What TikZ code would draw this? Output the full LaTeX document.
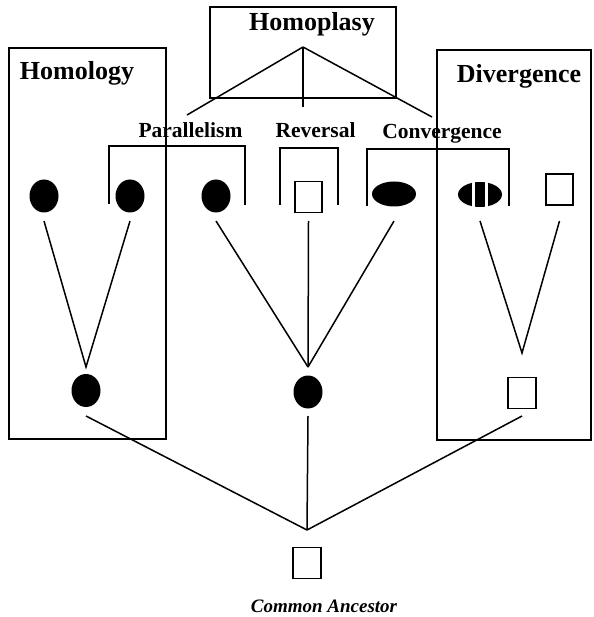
\documentclass[tikz,border=0pt]{standalone}
\usepackage{fontspec}
\setmainfont{Liberation Serif}
\usetikzlibrary{shapes.geometric}
\begin{document}
\begin{tikzpicture}[x=1pt,y=-1pt,line width=1.7pt,
  blob/.style={ellipse,fill=black,inner sep=0pt,minimum width=29pt,minimum height=33pt},
  flatblob/.style={ellipse,fill=black,inner sep=0pt,minimum width=44pt,minimum height=25pt},
  sq/.style={rectangle,draw,line width=1.6pt,inner sep=0pt,minimum width=27.5pt,minimum height=31pt},
  title/.style={font=\fontsize{26}{28}\selectfont\bfseries,anchor=base,inner sep=0pt},
  lab/.style={font=\fontsize{21.5}{24}\selectfont\bfseries,anchor=base,inner sep=0pt},
  frame/.style={line width=1.7pt},
  link/.style={line width=1.5pt}]
\useasboundingbox (0,0) rectangle (593,617);
% frames
\draw[frame] (210,7) rectangle (396,98);
\draw[frame] (9,48) rectangle (166,439);
\draw[frame] (437,50) rectangle (591,440);
% titles
\node[title] (thp) at (312,31) {Homoplasy};
\node[title] (thl) at (77,80) {Homology};
\node[title] (tdv) at (519,83) {Divergence};
\node[lab] (lpar) at (190.5,138) {Parallelism};
\node[lab] (lrev) at (315.5,138) {Reversal};
\node[lab] (lcon) at (442,139) {Convergence};
\node[font=\fontsize{19}{21}\selectfont\bfseries\itshape,anchor=base,inner sep=0pt] (tca) at (324,612) {Common Ancestor};
% homoplasy fan
\coordinate (fan) at (303,47);
\coordinate (fpar) at (187,115);
\coordinate (frev) at (303,107);
\coordinate (fcon) at (432,117);
\draw[link] (fan) -- (fpar);
\draw[link] (fan) -- (frev);
\draw[link] (fan) -- (fcon);
% brackets
\draw[frame] (109,204) |- (245,146) -- (245,205);
\draw[frame] (280,205) |- (338,148) -- (338,205);
\draw[frame] (367,206) |- (509,149) -- (509,206);
% top row
\node[blob] (e1) at (44,196) {};
\node[blob] (e2) at (130,196) {};
\node[blob] (e3) at (216,196) {};
\node[sq] (s1) at (308.5,197) {};
\node[flatblob] (e4) at (394,194) {};
\node[flatblob] (e5) at (480,194.5) {};
\fill[white] (471.7,180) rectangle (475,210);
\fill[white] (485,180) rectangle (488.3,210);
\node[sq] (s2) at (559.5,189.5) {};
% middle row
\node[blob] (hE) at (86,390.5) {};
\node[blob] (mE) at (308,392) {};
\node[sq] (dS) at (522,393) {};
% root
\node[sq] (root) at (307,563) {};
% apex coordinates and line starts
\coordinate (tl) at (0,221);
\coordinate (bl) at (0,416);
\coordinate (hA) at (86,367);
\coordinate (mA) at (308,367);
\coordinate (dA) at (522,353);
\coordinate (rA) at (307,530);
\draw[link] (e1 |- tl) -- (hA) -- (e2 |- tl);
\draw[link] (e3 |- tl) -- (mA);
\draw[link] (s1 |- tl) -- (mA);
\draw[link] (e4 |- tl) -- (mA);
\draw[link] (e5 |- tl) -- (dA) -- (s2 |- tl);
\draw[link] (hE |- bl) -- (rA);
\draw[link] (mE |- bl) -- (rA);
\draw[link] (dS |- bl) -- (rA);
\end{tikzpicture}
\end{document}
